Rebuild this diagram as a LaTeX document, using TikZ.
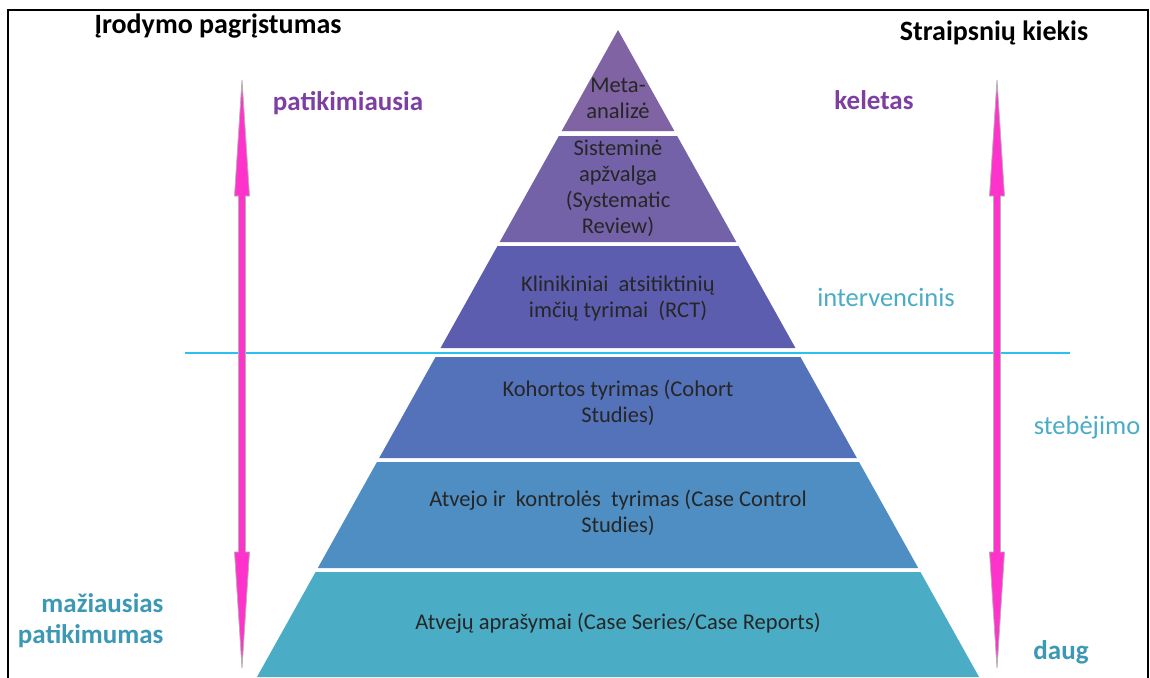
\documentclass[tikz,border=0pt]{standalone}
\usepackage{fontspec}
\setmainfont{Carlito}
\usetikzlibrary{calc}

\definecolor{metaFill}{HTML}{7F63A3}
\definecolor{sysFill}{HTML}{7362A8}
\definecolor{rctFill}{HTML}{5C5DAE}
\definecolor{cohFill}{HTML}{5472B9}
\definecolor{ccFill}{HTML}{4F8EC2}
\definecolor{csFill}{HTML}{4BACC6}
\definecolor{layerInk}{HTML}{262626}
\definecolor{arrowPink}{HTML}{FF33CC}
\definecolor{sepCyan}{HTML}{2CC0F0}
\definecolor{purpleInk}{HTML}{7E3FA3}
\definecolor{tealInk}{HTML}{3C98B5}
\definecolor{tealLight}{HTML}{4BACC6}

% double headed arrow between two named coordinates (top, bottom)
\newcommand\dblArrow[2]{%
  \filldraw[arrowbody] (#1) -- ($(#1)+(7.5,116)$) -- ($(#1)+(3.5,116)$)
    -- ($(#2)+(3.5,-116)$) -- ($(#2)+(7.5,-116)$) -- (#2)
    -- ($(#2)+(-7.5,-116)$) -- ($(#2)+(-3.5,-116)$)
    -- ($(#1)+(-3.5,116)$) -- ($(#1)+(-7.5,116)$) -- cycle;}

\begin{document}
\begin{tikzpicture}[
  x=1pt,y=-1pt,
  layertext/.style={align=center,text=layerInk,font=\fontsize{22.5}{26}\selectfont},
  heading/.style={font=\bfseries\fontsize{28}{32}\selectfont},
  sidebold/.style={font=\bfseries\fontsize{27}{31}\selectfont},
  sideplain/.style={font=\fontsize{26.5}{30}\selectfont,text=tealLight},
  arrowbody/.style={fill=arrowPink,draw=gray!60,line width=0.8pt,line join=miter},
  sepline/.style={line width=2pt,draw=sepCyan}
]
  \useasboundingbox (0,0) rectangle (1150,677);
  \fill[white] (0,0) rectangle (1150,677);
  % frame
  \draw[line width=2pt] (8,690) -- (8,10) -- (1148,10) -- (1148,690);

  % pyramid layers
  \foreach \yt/\yb/\col in {30/131/metaFill, 136/242/sysFill, 246/348/rctFill,
                            357/458/cohFill, 462/568/ccFill, 572/677/csFill}{
    \pgfmathsetmacro\wt{0.558*(\yt-30)}
    \pgfmathsetmacro\wb{0.558*(\yb-30)}
    \fill[\col] (618-\wt,\yt) -- (618+\wt,\yt) -- (618+\wb,\yb) -- (618-\wb,\yb) -- cycle;
  }

  \node[layertext] (meta) at (618,98) {Meta-\\analizė};
  \node[layertext] (sys) at (618,188) {Sisteminė\\apžvalga\\(Systematic\\Review)};
  \node[layertext] (rct) at (618,298) {Klinikiniai\ \ atsitiktinių\\imčių tyrimai\ \ (RCT)};
  \node[layertext] (cohort) at (618,403) {Kohortos tyrimas (Cohort\\Studies)};
  \node[layertext] (casectl) at (618,513) {Atvejo ir\ \ kontrolės\ \ tyrimas (Case Control\\Studies)};
  \node[layertext] (cases) at (618,623) {Atvejų aprašymai (Case Series/Case Reports)};

  % separator
  \coordinate (sepL) at (185,353);
  \coordinate (sepR) at (1070,353);
  \draw[sepline] (sepL) -- (sepR);

  % double arrows
  \coordinate (relTop) at (242,80);
  \coordinate (relBot) at (242,668);
  \coordinate (cntTop) at (997,80);
  \coordinate (cntBot) at (997,668);
  \dblArrow{relTop}{relBot}
  \dblArrow{cntTop}{cntBot}

  % headings and side labels
  \node[heading] (relHead) at (218,26) {Įrodymo pagrįstumas};
  \node[heading] (cntHead) at (994,33) {Straipsnių kiekis};
  \node[sidebold,text=purpleInk] (most) at (348,103) {patikimiausia};
  \node[sidebold,text=purpleInk] (few) at (874,100) {keletas};
  \node[sideplain] (interv) at (886,297) {intervencinis};
  \node[sideplain] (observ) at (1087,428) {stebėjimo};
  \node[sidebold,text=tealInk,align=right,anchor=east] (least) at (167,621) {mažiausias\\patikimumas};
  \node[sidebold,text=tealInk] (many) at (1061,652) {daug};
\end{tikzpicture}
\end{document}
